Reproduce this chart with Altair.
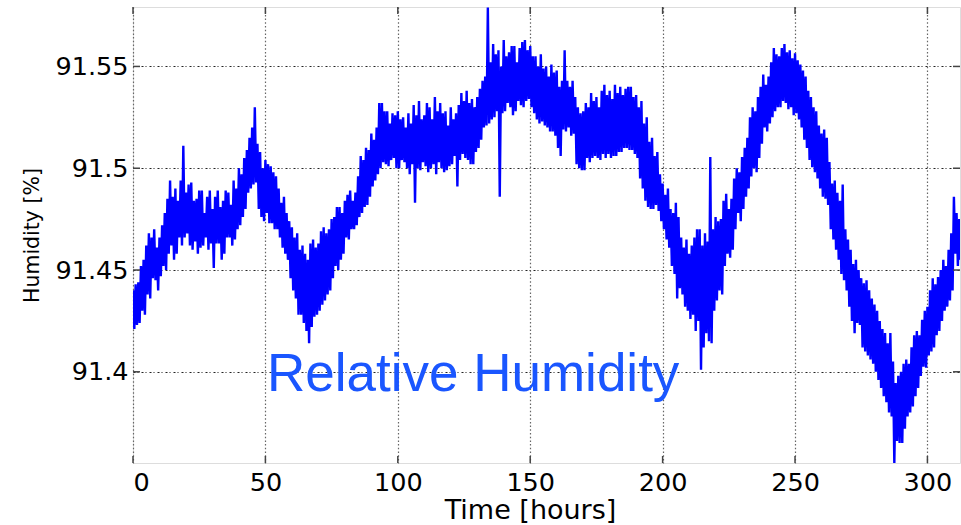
import altair as alt
import pandas as pd

# Relative humidity record, hourly: upper and lower excursion of the noisy
# trace in each hour (upper at the full hour, lower half an hour later).
rh_upper = [
    91.440, 91.443, 91.444, 91.452, 91.455, 91.462, 91.468, 91.466, 91.470, 91.461,
    91.466, 91.472, 91.478, 91.485, 91.494, 91.486, 91.490, 91.484, 91.494, 91.511,
    91.488, 91.492, 91.493, 91.484, 91.485, 91.489, 91.489, 91.478, 91.486, 91.489,
    91.480, 91.486, 91.489, 91.481, 91.484, 91.489, 91.488, 91.482, 91.494, 91.490,
    91.500, 91.497, 91.505, 91.509, 91.515, 91.520, 91.530, 91.512, 91.508, 91.500,
    91.504, 91.502, 91.501, 91.498, 91.496, 91.490, 91.483, 91.486, 91.478, 91.474,
    91.471, 91.466, 91.468, 91.460, 91.462, 91.458, 91.455, 91.463, 91.465, 91.461,
    91.463, 91.469, 91.471, 91.468, 91.470, 91.475, 91.476, 91.481, 91.481, 91.478,
    91.484, 91.487, 91.489, 91.484, 91.488, 91.496, 91.506, 91.504, 91.510, 91.509,
    91.517, 91.514, 91.520, 91.532, 91.532, 91.528, 91.528, 91.522, 91.527, 91.526,
    91.528, 91.524, 91.525, 91.520, 91.527, 91.522, 91.531, 91.526, 91.533, 91.524,
    91.526, 91.532, 91.530, 91.524, 91.535, 91.528, 91.532, 91.527, 91.528, 91.521,
    91.530, 91.524, 91.527, 91.531, 91.537, 91.533, 91.538, 91.532, 91.534, 91.530,
    91.535, 91.539, 91.543, 91.545, 91.579, 91.552, 91.561, 91.556, 91.558, 91.550,
    91.563, 91.555, 91.557, 91.560, 91.560, 91.552, 91.559, 91.562, 91.563, 91.558,
    91.560, 91.555, 91.555, 91.550, 91.556, 91.549, 91.550, 91.545, 91.551, 91.547,
    91.548, 91.540, 91.543, 91.558, 91.543, 91.540, 91.543, 91.535, 91.530, 91.527,
    91.528, 91.532, 91.530, 91.537, 91.533, 91.535, 91.530, 91.538, 91.541, 91.536,
    91.538, 91.534, 91.541, 91.537, 91.540, 91.536, 91.539, 91.540, 91.540, 91.535,
    91.536, 91.530, 91.533, 91.522, 91.525, 91.513, 91.515, 91.506, 91.508, 91.497,
    91.4925, 91.487, 91.490, 91.480, 91.478, 91.483, 91.476, 91.466, 91.461, 91.465,
    91.458, 91.462, 91.466, 91.470, 91.470, 91.462, 91.468, 91.464, 91.5055, 91.470,
    91.476, 91.474, 91.475, 91.484, 91.4875, 91.480, 91.485, 91.495, 91.500, 91.498,
    91.5055, 91.510, 91.515, 91.525, 91.530, 91.528, 91.535, 91.540, 91.546, 91.541,
    91.545, 91.552, 91.559, 91.556, 91.555, 91.559, 91.561, 91.557, 91.558, 91.554,
    91.5565, 91.553, 91.551, 91.548, 91.545, 91.538, 91.535, 91.530, 91.528, 91.521,
    91.517, 91.519, 91.515, 91.503, 91.4925, 91.494, 91.488, 91.484, 91.492, 91.470,
    91.465, 91.460, 91.453, 91.455, 91.450, 91.446, 91.4435, 91.445, 91.440, 91.436,
    91.433, 91.430, 91.425, 91.421, 91.419, 91.414, 91.419, 91.405, 91.3945, 91.398,
    91.400, 91.404, 91.406, 91.404, 91.412, 91.418, 91.420, 91.418, 91.4255, 91.430,
    91.432, 91.440, 91.446, 91.443, 91.4465, 91.450, 91.455, 91.452, 91.460, 91.468,
    91.486, 91.478, 91.475,
]
rh_lower = [
    91.421, 91.423, 91.424, 91.430, 91.428, 91.438, 91.436, 91.446, 91.445, 91.440,
    91.447, 91.452, 91.450, 91.458, 91.462, 91.455, 91.458, 91.466, 91.462, 91.466,
    91.468, 91.462, 91.460, 91.464, 91.458, 91.461, 91.462, 91.466, 91.460, 91.463,
    91.451, 91.463, 91.463, 91.455, 91.458, 91.466, 91.466, 91.462, 91.465, 91.470,
    91.472, 91.476, 91.480, 91.488, 91.490, 91.492, 91.493, 91.480, 91.476, 91.474,
    91.478, 91.473, 91.473, 91.470, 91.470, 91.466, 91.461, 91.458, 91.455, 91.446,
    91.440, 91.436, 91.428, 91.428, 91.424, 91.420, 91.414, 91.422, 91.427, 91.428,
    91.430, 91.433, 91.435, 91.438, 91.440, 91.446, 91.452, 91.450, 91.455, 91.458,
    91.466, 91.465, 91.470, 91.470, 91.472, 91.476, 91.478, 91.481, 91.482, 91.486,
    91.491, 91.494, 91.497, 91.500, 91.503, 91.502, 91.501, 91.504, 91.505, 91.500,
    91.500, 91.504, 91.503, 91.500, 91.497, 91.502, 91.483, 91.500, 91.499, 91.503,
    91.501, 91.498, 91.500, 91.502, 91.497, 91.503, 91.500, 91.498, 91.499, 91.501,
    91.502, 91.506, 91.491, 91.504, 91.507, 91.505, 91.504, 91.502, 91.502, 91.508,
    91.510, 91.514, 91.520, 91.521, 91.522, 91.524, 91.525, 91.528, 91.486, 91.527,
    91.528, 91.532, 91.530, 91.526, 91.528, 91.533, 91.531, 91.530, 91.533, 91.534,
    91.530, 91.527, 91.524, 91.522, 91.523, 91.521, 91.520, 91.518, 91.518, 91.516,
    91.510, 91.506, 91.519, 91.518, 91.520, 91.516, 91.517, 91.502, 91.500, 91.499,
    91.499, 91.505, 91.503, 91.505, 91.506, 91.505, 91.504, 91.507, 91.505, 91.507,
    91.505, 91.506, 91.506, 91.508, 91.508, 91.510, 91.510, 91.509, 91.509, 91.507,
    91.505, 91.495, 91.490, 91.484, 91.481, 91.480, 91.480, 91.482, 91.479, 91.474,
    91.470, 91.465, 91.461, 91.452, 91.448, 91.436, 91.441, 91.438, 91.432, 91.430,
    91.426, 91.428, 91.420, 91.425, 91.401, 91.412, 91.419, 91.415, 91.414, 91.430,
    91.435, 91.440, 91.438, 91.452, 91.458, 91.456, 91.460, 91.470, 91.478, 91.474,
    91.480, 91.486, 91.490, 91.496, 91.500, 91.498, 91.505, 91.512, 91.520, 91.518,
    91.522, 91.525, 91.528, 91.530, 91.530, 91.533, 91.532, 91.529, 91.530, 91.526,
    91.527, 91.524, 91.520, 91.514, 91.510, 91.504, 91.5005, 91.498, 91.495, 91.490,
    91.486, 91.485, 91.482, 91.470, 91.465, 91.460, 91.455, 91.448, 91.445, 91.440,
    91.432, 91.425, 91.419, 91.424, 91.423, 91.412, 91.410, 91.408, 91.406, 91.404,
    91.400, 91.396, 91.392, 91.388, 91.385, 91.380, 91.378, 91.355, 91.366, 91.365,
    91.365, 91.372, 91.378, 91.380, 91.383, 91.388, 91.392, 91.398, 91.4025, 91.402,
    91.408, 91.410, 91.412, 91.418, 91.420, 91.425, 91.430, 91.432, 91.435, 91.440,
    91.458, 91.452, 91.455,
]

x_ticks = [0, 50, 100, 150, 200, 250, 300]
y_ticks = [91.4, 91.45, 91.5, 91.55]
x_domain = [0, 312.3]
y_domain = [91.3552, 91.5792]

rows = []
for hour, (hi, lo) in enumerate(zip(rh_upper, rh_lower)):
    rows.append({"t": hour, "rh": hi})
    rows.append({"t": hour + 0.5, "rh": lo})
trace = pd.DataFrame(rows)

W, H = 827, 456
FONT = "DejaVu Sans"
X_TITLE = "Time [hours]"
Y_TITLE = "Humidity [%]"

xs = alt.Scale(domain=x_domain, nice=False, zero=False)
ys = alt.Scale(domain=y_domain, nice=False, zero=False)

line = alt.Chart(trace).mark_line(color="#0000ff", strokeWidth=2.4, clip=True).encode(
    x=alt.X("t:Q", scale=xs, title=X_TITLE,
            axis=alt.Axis(values=x_ticks, format="d", grid=True, gridColor="#666",
                          gridDash=[1.5, 2.2], gridWidth=1.2, domain=False, ticks=False,
                          labelFont=FONT, labelFontSize=25.5, labelColor="#000",
                          labelPadding=7, titleFont=FONT, titleFontSize=27,
                          titleFontWeight="normal", titleColor="#000",
                          titleBaseline="alphabetic", titleX=397, titleY=55)),
    y=alt.Y("rh:Q", scale=ys, title=Y_TITLE,
            axis=alt.Axis(values=y_ticks, format=".2~f", grid=True, gridColor="#222",
                          gridDash=[2, 2, 1, 3], gridWidth=1.1, domain=False, ticks=False,
                          labelFont=FONT, labelFontSize=25.5, labelColor="#000",
                          labelPadding=5, titleFont=FONT, titleFontSize=20.5,
                          titleFontWeight="normal", titleColor="#000", titlePadding=12)),
)

# inward tick marks on all four sides of the box
xt = pd.DataFrame({"t": x_ticks})
yt = pd.DataFrame({"rh": y_ticks})
tick_color = "#444"
x_tick_bottom = alt.Chart(xt).mark_rule(color=tick_color, strokeWidth=1.5).encode(
    x=alt.X("t:Q", scale=xs, title=X_TITLE), y=alt.value(H), y2=alt.value(H - 7))
x_tick_top = alt.Chart(xt).mark_rule(color=tick_color, strokeWidth=1.5).encode(
    x=alt.X("t:Q", scale=xs, title=X_TITLE), y=alt.value(0), y2=alt.value(7))
y_tick_left = alt.Chart(yt).mark_rule(color=tick_color, strokeWidth=1.5).encode(
    y=alt.Y("rh:Q", scale=ys, title=Y_TITLE), x=alt.value(0), x2=alt.value(7))
y_tick_right = alt.Chart(yt).mark_rule(color=tick_color, strokeWidth=1.5).encode(
    y=alt.Y("rh:Q", scale=ys, title=Y_TITLE), x=alt.value(W), x2=alt.value(W - 7))

note = alt.Chart(pd.DataFrame({"label": ["Relative Humidity"]})).mark_text(
    align="left", baseline="alphabetic", font="Liberation Sans", fontSize=53,
    color="#1a56ff"
).encode(text="label:N", x=alt.value(134), y=alt.value(384))

chart = (
    alt.layer(line, x_tick_bottom, x_tick_top, y_tick_left, y_tick_right, note)
    .properties(width=W, height=H,
                autosize=alt.AutoSizeParams(type="none"),
                padding={"left": 133, "top": 7, "right": 1, "bottom": 62})
    .configure_view(stroke="#333", strokeWidth=1.5)
    .configure(background="white")
)

chart.save("out.html", embed_options={"renderer": "svg", "actions": False})
